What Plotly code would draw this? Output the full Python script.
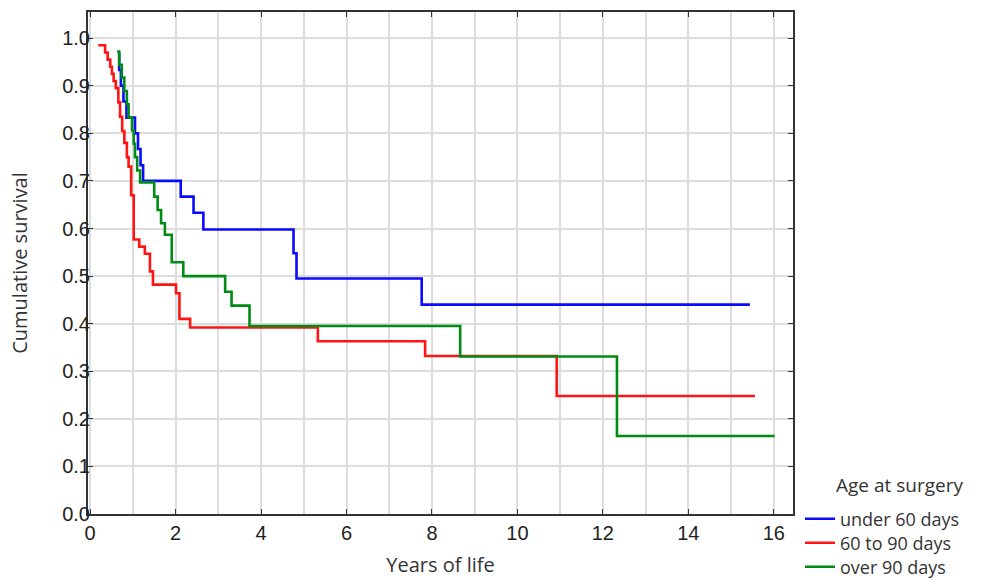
import plotly.graph_objects as go

# ---- data ----
series_names = ["under 60 days", "60 to 90 days", "over 90 days"]
legend_title = "Age at surgery"

under60_time = [0.65, 0.68, 0.72, 0.78, 0.85, 1.05, 1.12, 1.18, 1.24, 2.12, 2.42, 2.65, 4.76, 4.83, 7.76]
under60_surv = [0.967, 0.933, 0.90, 0.867, 0.833, 0.80, 0.767, 0.733, 0.70, 0.667, 0.633, 0.598, 0.548, 0.495, 0.44]
under60_end = 15.44

mid_time = [0.19, 0.35, 0.41, 0.47, 0.51, 0.55, 0.60, 0.66, 0.70, 0.75, 0.80, 0.86, 0.90, 0.96, 1.02,
            1.15, 1.28, 1.40, 1.47, 2.01, 2.09, 2.34, 5.33, 7.84, 10.92]
mid_surv = [0.985, 0.970, 0.955, 0.940, 0.925, 0.91, 0.895, 0.865, 0.835, 0.805, 0.78, 0.75, 0.73, 0.67, 0.577,
            0.562, 0.547, 0.51, 0.482, 0.464, 0.41, 0.392, 0.363, 0.332, 0.248]
mid_end = 15.56

over90_time = [0.63, 0.68, 0.74, 0.80, 0.86, 0.90, 0.98, 1.02, 1.05, 1.10, 1.17, 1.50, 1.58, 1.66, 1.75,
               1.91, 2.18, 3.16, 3.31, 3.73, 8.66, 12.33]
over90_surv = [0.972, 0.944, 0.917, 0.889, 0.861, 0.833, 0.806, 0.778, 0.75, 0.722, 0.697, 0.667, 0.639, 0.611, 0.587,
               0.529, 0.50, 0.467, 0.438, 0.395, 0.331, 0.164]
over90_end = 16.02

x_ticks = [0, 2, 4, 6, 8, 10, 12, 14, 16]
y_ticks = [0.0, 0.1, 0.2, 0.3, 0.4, 0.5, 0.6, 0.7, 0.8, 0.9, 1.0]

colors = ["rgb(10,10,255)", "rgb(255,20,20)", "rgb(0,140,20)"]

fig = go.Figure()
legend_ids = ["legend", "legend2", "legend3"]
for name, t, s, end, c, lg in [
    (series_names[0], under60_time, under60_surv, under60_end, colors[0], legend_ids[0]),
    (series_names[1], mid_time, mid_surv, mid_end, colors[1], legend_ids[1]),
    (series_names[2], over90_time, over90_surv, over90_end, colors[2], legend_ids[2]),
]:
    fig.add_trace(go.Scatter(
        x=list(t) + [end], y=list(s) + [s[-1]], mode="lines", name=name,
        line=dict(color=c, width=2.6, shape="hv"), legend=lg,
    ))

axis_font = dict(family="Liberation Sans", size=20, color="#222222")
title_font = dict(family="Open Sans", size=20, color="#333333")
legend_font = dict(family="Open Sans", size=18, color="#333333")
legend_title_font = dict(family="Open Sans", size=19, color="#333333")

# layout geometry: plot area 88..793 px wide, 12..514 px tall
L, R, T, B = 88, 208, 12, 64
pw, ph = 1001 - L - R, 578 - T - B


def px_x(x):
    return (x - L) / pw


def px_y(y):
    return (578 - B - y) / ph


def leg(ypx):
    return dict(font=legend_font, x=px_x(800), xanchor="left", y=px_y(ypx), yanchor="middle",
                bgcolor="rgba(0,0,0,0)", itemwidth=30, borderwidth=0)


fig.update_layout(
    width=1001, height=578,
    paper_bgcolor="white", plot_bgcolor="white",
    margin=dict(l=L, r=R, t=T, b=B, autoexpand=False),
    showlegend=True,
    legend=leg(519), legend2=leg(543), legend3=leg(567),
    annotations=[dict(text=legend_title, xref="paper", yref="paper", x=px_x(899), y=px_y(485),
                      xanchor="center", yanchor="middle", showarrow=False, font=legend_title_font)],
    xaxis=dict(
        range=[-0.05, 16.45], tickmode="array", tickvals=x_ticks,
        ticktext=[str(v) for v in x_ticks],
        tickfont=axis_font, ticks="inside", ticklen=5, tickcolor="#333333",
        showline=True, linecolor="#333333", linewidth=2, mirror="ticks",
        showgrid=True, gridcolor="#dddddd", gridwidth=2,
        minor=dict(dtick=1, showgrid=True, gridcolor="#dddddd", gridwidth=2, ticks=""),
        zeroline=False, automargin=False, ticklabelstandoff=0,
        title=dict(text="Years of life", font=title_font, standoff=20),
    ),
    yaxis=dict(
        range=[0, 1.055], tickmode="array", tickvals=y_ticks,
        ticktext=["%.1f" % v for v in y_ticks],
        tickfont=axis_font, ticks="inside", ticklen=5, tickcolor="#333333",
        showline=True, linecolor="#333333", linewidth=2, mirror="ticks",
        showgrid=True, gridcolor="#dddddd", gridwidth=2,
        zeroline=False, automargin=False, ticklabelstandoff=-8,
        title=dict(text="Cumulative survival", font=title_font, standoff=29),
    ),
)

fig.write_html("out.html", post_script="document.body.style.margin='0px';",
               config={"displayModeBar": False})
